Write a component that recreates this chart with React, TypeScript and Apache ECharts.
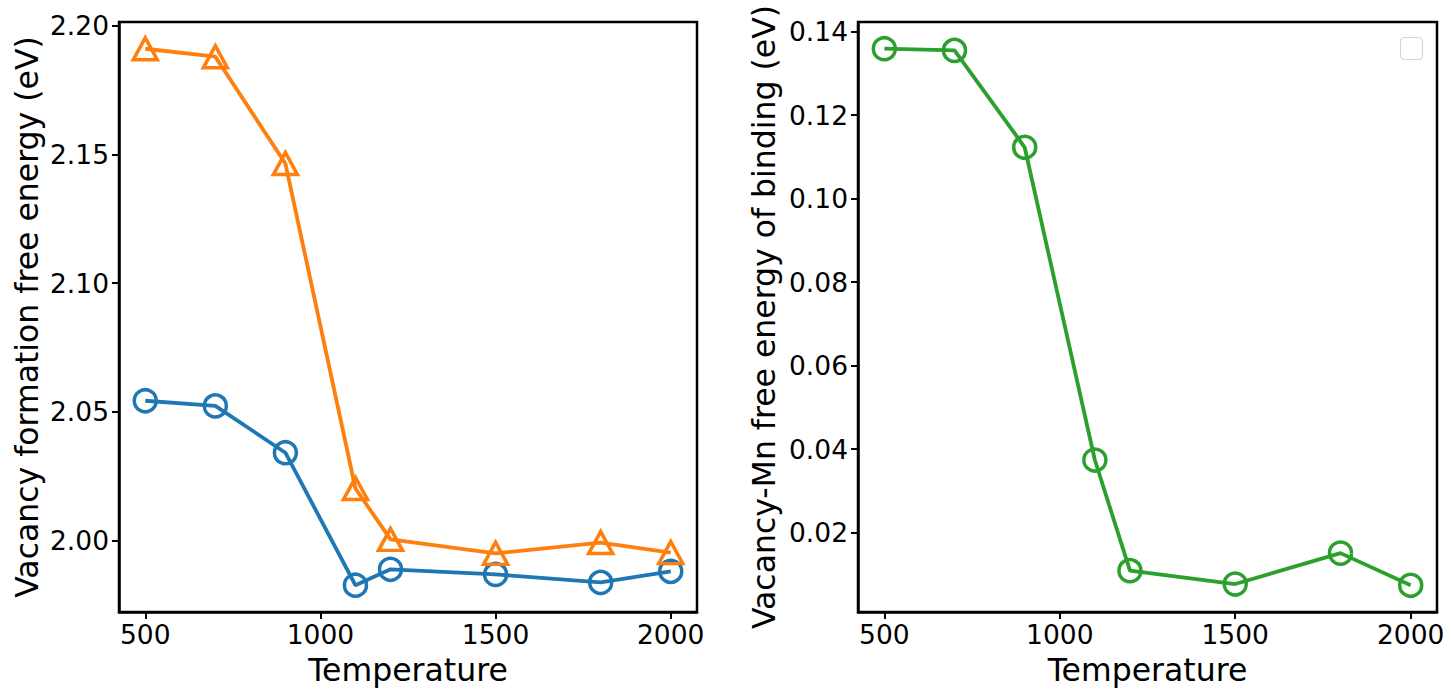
import React, { useEffect, useRef } from "react";
import * as echarts from "echarts";

const temperatures = [500, 700, 900, 1100, 1200, 1500, 1800, 2000];
const formationBlue = [2.0543, 2.0523, 2.0341, 1.9826, 1.9888, 1.9868, 1.9837, 1.988];
const formationOrange = [2.1911, 2.188, 2.1465, 2.0202, 2.0004, 1.995, 1.9992, 1.9953];
const bindingGreen = [0.1359, 0.1355, 0.1123, 0.0374, 0.0109, 0.0077, 0.0151, 0.0074];

const xTicks = [500, 1000, 1500, 2000];
const leftYTicks = [2.0, 2.05, 2.1, 2.15, 2.2];
const rightYTicks = [0.02, 0.04, 0.06, 0.08, 0.1, 0.12, 0.14];

const FONT = "DejaVu Sans";

export default function App() {
  const ref = useRef<HTMLDivElement>(null);
  useEffect(() => {
    document.body.style.margin = "0";
    const chart = echarts.init(ref.current!, undefined, { renderer: "svg" });
    const pair = (ys: number[]) => temperatures.map((t, i) => [t, ys[i]]);
    const xAxisBase = (gridIndex: number) => ({
      type: "value" as const,
      gridIndex,
      min: 425,
      max: 2075,
      name: "Temperature",
      nameLocation: "middle" as const,
      nameGap: 42,
      nameTextStyle: { fontFamily: FONT, fontSize: 31.5, color: "#000" },
      axisLine: { show: true, lineStyle: { color: "#000", width: 2.5 } },
      axisTick: { show: true, length: 7, lineStyle: { color: "#000", width: 2 }, customValues: xTicks },
      axisLabel: { fontFamily: FONT, fontSize: 26.5, color: "#000", margin: 9, customValues: xTicks, formatter: (v: number) => String(v) },
      splitLine: { show: false },
    });
    const yAxisBase = (gridIndex: number, min: number, max: number, ticks: number[], name: string, gap: number) => ({
      type: "value" as const,
      gridIndex,
      min,
      max,
      name,
      nameLocation: "middle" as const,
      nameGap: gap,
      nameTextStyle: { fontFamily: FONT, fontSize: 31.5, color: "#000" },
      axisLine: { show: true, lineStyle: { color: "#000", width: 2.5 } },
      axisTick: { show: true, length: 7, lineStyle: { color: "#000", width: 2 }, customValues: ticks },
      axisLabel: { fontFamily: FONT, fontSize: 26.5, color: "#000", margin: 10, customValues: ticks, formatter: (v: number) => v.toFixed(2) },
      splitLine: { show: false },
    });
    const lineSeries = (data: number[][], color: string, symbol: string, xi: number, yi: number) => ({
      type: "line" as const,
      xAxisIndex: xi,
      yAxisIndex: yi,
      data,
      symbol,
      symbolSize: symbol === "triangle" ? [24, 22] : 22,
      showAllSymbol: true,
      lineStyle: { color, width: 3.8 },
      itemStyle: { color: "none", borderColor: color, borderWidth: 3.5 },
      z: 3,
    });
    chart.setOption({
      animation: false,
      backgroundColor: "#fff",
      grid: [
        { left: 119, top: 22, width: 578, height: 590, show: true, borderColor: "#000", borderWidth: 2.5, backgroundColor: "transparent" },
        { left: 858, top: 22, width: 579, height: 590, show: true, borderColor: "#000", borderWidth: 2.5, backgroundColor: "transparent" },
      ],
      xAxis: [xAxisBase(0), xAxisBase(1)],
      yAxis: [
        yAxisBase(0, 1.9722, 2.2015, leftYTicks, "Vacancy formation free energy (eV)", 76),
        yAxisBase(1, 0.001, 0.1423, rightYTicks, "Vacancy-Mn free energy of binding (eV)", 78),
      ],
      series: [
        lineSeries(pair(formationBlue), "#1f77b4", "circle", 0, 0),
        lineSeries(pair(formationOrange), "#ff7f0e", "triangle", 0, 0),
        lineSeries(pair(bindingGreen), "#2ca02c", "circle", 1, 1),
      ],
      graphic: [
        {
          type: "rect",
          shape: { x: 1400.5, y: 37.5, width: 22, height: 22, r: 4 },
          style: { fill: "#fff", stroke: "#d4d4d4", lineWidth: 1.2 },
          z: 10,
        },
      ],
    });
    return () => chart.dispose();
  }, []);
  return <div ref={ref} style={{ position: "absolute", left: 0, top: 0, width: 1452, height: 691 }} />;
}
